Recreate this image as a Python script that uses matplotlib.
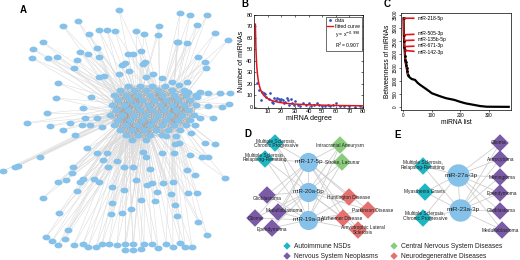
import numpy as np
import matplotlib
matplotlib.use("Agg")
from matplotlib import pyplot as plt
from matplotlib.path import Path
from matplotlib.lines import Line2D

plt.rcParams['font.family'] = ['Liberation Sans', 'DejaVu Sans']

# ---------------- data ----------------
# panel A: network layout (layout units = figure pixels), outer nodes
outer_x = [119,180,78,63,99,107,115,136,144,159,158,89,43,33,32,48,57,80,88,97,99,77,74,128,133,141,177,125,122,145,
           143,129,99,104,119,146,153,58,56,47,27,50,63,75,70,82,90,83,91,85,97,102,87,40,3,15,18,73,72,58,
           66,80,83,94,99,77,43,59,97,107,103,117,108,124,112,124,112,111,122,131,136,141,147,152,155,157,163,171,173,177,
           150,133,143,146,162,174,175,166,176,162,172,179,187,
           68,46,52,58,65,74,83,88,96,102,109,117,125,133,125,133,141,144,152,158,166,173,180,185,192,
           190,207,197,215,228,178,187,198,205,206,188,200,208,220,230,197,208,222,229,200,213,195,191,179,205,215,190,202,208,187,
           195,225,188,197,175,198,207]
outer_y = [10,13,21,26,30,30,31,31,34,26,35,34,42,49,58,58,57,52,54,48,57,60,68,54,54,51,42,63,65,62,
           64,71,77,76,74,77,74,83,98,113,123,126,130,135,123,125,125,108,97,118,118,127,148,157,171,167,166,167,173,182,
           180,182,179,179,182,191,198,213,153,153,160,161,167,167,187,190,203,214,213,209,180,200,185,183,201,192,183,194,182,216,
           169,167,152,157,153,153,144,136,136,78,82,85,82,
           230,237,241,245,239,245,244,247,247,244,244,245,244,244,250,250,249,244,244,248,244,247,243,247,247,
           15,15,25,33,40,42,43,57,62,68,92,92,93,93,93,97,106,107,104,118,118,125,133,143,143,144,155,157,157,170,
           175,178,193,193,205,222,235]
# dense core of panel A, one list of x per row
core_rows = {86: [128, 140, 152, 165],
             90: [120, 134, 146, 158, 172, 184],
             95: [114, 126, 138, 150, 162, 174, 186, 196],
             100: [118, 130, 142, 154, 166, 178, 190],
             105: [112, 124, 136, 148, 160, 172, 184, 196],
             110: [116, 128, 140, 152, 164, 176, 188],
             115: [110, 122, 134, 146, 158, 170, 182, 194],
             120: [118, 130, 142, 154, 166, 178, 190],
             125: [114, 126, 138, 150, 162, 174, 186],
             130: [120, 132, 144, 156, 168, 180],
             135: [126, 138, 150, 162],
             140: [132, 146]}
hub_x = [138, 150, 160, 145, 172, 128]
hub_y = [105, 110, 100, 120, 112, 115]

# panel B: degree distribution
deg_x = [2,4,5,6,7,8,9,11,12,13,14,15,16,17,18,19,20,21,22,23,24,25,26,27,28,29,30,
         32,34,36,38,40,42,44,46,48,50,52,54,56,58,60,63,66,70,74,78]
deg_n = [21,15,6,13,12,11,9,7,12,4,3,8,6,8,7,5,7,6,3,4,8,6,2,7,3,2,5,
         2,1,3,2,3,1,2,3,2,1,1,2,1,2,3,1,1,1,0,1]
fit_a, fit_b = 72, -0.998

# panel C: betweenness (sorted)
bt_rank = [1,2,3,4,5,6,7,8,10,12,14,16,20,25,30,41,50,59,75,93,100,120,133,150,179,200,220,248,270,293,370]
bt_val = [3380,2750,2530,2300,2150,1950,1800,1700,1600,1480,1350,1220,1150,1100,1060,1030,920,840,720,580,
          520,440,390,330,265,190,130,75,30,5,0]
top_names = ['miR-218-5p', 'miR-505-3p', 'miR-135b-5p', 'miR-671-3p', 'miR-142-3p']
top_text_y = [3380, 2800, 2570, 2340, 2060]

# panels D, E
cat_colors = {'auto': '#1fb6c3', 'neo': '#7b5aa6', 'cns': '#8ccb7e', 'neuro': '#e2716f'}
d_mirs = ['miR-17-5p', 'miR-20a-5p', 'miR-19a-3p']
d_mir_x = [308, 308, 308]
d_mir_y = [162, 192, 220]
d_dis = ['Multiple Sclerosis,\nChronic Progressive', 'Multiple Sclerosis,\nRelapsing-Remitting',
         'Intracranial Aneurysm', 'Stroke, Lacunar', 'Huntington Disease', 'Parkinson Disease',
         'Alzheimer Disease', 'Amyotrophic Lateral\nSclerosis', 'Glioblastoma', 'Medulloblastoma',
         'Glioma', 'Ependymoma']
d_cat = ['auto', 'auto', 'cns', 'cns', 'neuro', 'neuro', 'neuro', 'neuro', 'neo', 'neo', 'neo', 'neo']
d_dis_x = [275, 265, 340, 342, 349, 368, 343, 358, 267, 278, 255, 272]
d_dis_y = [143, 159, 145, 162, 197, 210, 218, 230, 195, 212, 218, 228]
d_lab_x = [276, 265, 340, 342, 349, 373, 342, 363, 267, 284, 256, 272]
d_lab_y = [143.5, 157.5, 145, 162, 198, 210, 218, 230, 198, 211, 218, 229]

e_mirs = ['miR-27a-3p', 'miR-23a-3p']
e_mir_x = [458, 460]
e_mir_y = [175, 210]
e_dis = ['Multiple Sclerosis,\nRelapsing-Remitting', 'Myasthenia Gravis', 'Multiple Sclerosis,\nChronic Progressive',
         'Glioma', 'Astrocytoma', 'Meningioma', 'Ependymoma', 'Glioblastoma', 'Medulloblastoma']
e_cat = ['auto', 'auto', 'auto', 'neo', 'neo', 'neo', 'neo', 'neo', 'neo']
e_dis_x = [423, 425, 423, 500, 500, 500, 500, 500, 502]
e_dis_y = [166, 192, 218, 143, 159, 177, 193, 211, 230]
e_lab_x = [423, 424, 425, 499, 501, 502, 502, 501, 500]
e_lab_y = [165, 192, 216, 143, 159, 177, 193, 211, 230]

leg_names = ['Autoimmune NSDs', 'Nervous System Neoplasms', 'Central Nervous System Diseases', 'Neurodegenerative Diseases']
leg_cat = ['auto', 'neo', 'cns', 'neuro']
leg_x = [287, 287, 394, 394]
leg_y = [246, 256, 246, 256]

node_blue = '#85c1e8'

# ---------------- figure ----------------
fig = plt.figure(figsize=(5.2, 2.6), dpi=100)
net = fig.add_axes([0, 0, 1, 1])
net.set_xlim(0, 520)
net.set_ylim(260, 0)
net.axis('off')

# panel A
core_x = [x for yy, xs in core_rows.items() for x in xs]
core_y = [yy for yy, xs in core_rows.items() for x in xs]
cx, cy = np.array(core_x, float), np.array(core_y, float)
hx, hy = np.array(hub_x, float), np.array(hub_y, float)
for x0, y0 in zip(outer_x, outer_y):
    d = np.hypot(hx - x0, hy - y0)
    for k in np.argsort(d)[:2]:
        net.plot([x0, hx[k]], [y0, hy[k]], color='#d9d9d9', lw=0.35, zorder=1)
for i in range(len(cx)):
    for j in range(i + 1, len(cx)):
        if np.hypot(cx[i] - cx[j], cy[i] - cy[j]) < 26:
            net.plot([cx[i], cx[j]], [cy[i], cy[j]], color='#8f8f8f', lw=0.25, alpha=0.6, zorder=1)
t = np.linspace(0, 2 * np.pi, 40)
ell = Path(np.column_stack([np.cos(t), 0.72 * np.sin(t)]))
net.scatter(outer_x, outer_y, s=33, marker=ell, color=node_blue, linewidths=0, zorder=3)
net.scatter(core_x, core_y, s=33, marker=ell, color=node_blue, linewidths=0, zorder=3)

# panel D
for mx, my in zip(d_mir_x, d_mir_y):
    for dx, dy in zip(d_dis_x, d_dis_y):
        net.plot([mx, dx], [my, dy], color='#cfcfcf', lw=0.6, zorder=1)
net.plot(d_mir_x, d_mir_y, color='#cfcfcf', lw=0.6, zorder=1)
net.scatter(d_dis_x, d_dis_y, s=80, marker='D', color=[cat_colors[c] for c in d_cat], linewidths=0, zorder=3)
net.scatter(d_mir_x, d_mir_y, s=190, marker='o', color=node_blue, linewidths=0, zorder=3)
for name, x, y in zip(d_dis, d_lab_x, d_lab_y):
    net.text(x, y, name, fontsize=3.5, ha='center', va='center', color='#222222', zorder=4, linespacing=0.95)
for name, x, y in zip(d_mirs, d_mir_x, d_mir_y):
    net.text(x + 1, y, name, fontsize=4.4, ha='center', va='center', color='#222222', zorder=4)

# panel E
for mx, my in zip(e_mir_x, e_mir_y):
    for dx, dy in zip(e_dis_x, e_dis_y):
        net.plot([mx, dx], [my, dy], color='#cfcfcf', lw=0.6, zorder=1)
net.plot(e_mir_x, e_mir_y, color='#cfcfcf', lw=0.6, zorder=1)
net.scatter(e_dis_x, e_dis_y, s=80, marker='D', color=[cat_colors[c] for c in e_cat], linewidths=0, zorder=3)
net.scatter(e_mir_x, e_mir_y, s=260, marker='o', color=node_blue, linewidths=0, zorder=3)
for name, x, y in zip(e_dis, e_lab_x, e_lab_y):
    net.text(x, y, name, fontsize=3.5, ha='center', va='center', color='#222222', zorder=4, linespacing=0.95)
for name, x, y in zip(e_mirs, e_mir_x, e_mir_y):
    net.text(x + 3, y, name, fontsize=4.6, ha='center', va='center', color='#222222', zorder=4)

# shared legend for D/E
net.scatter(leg_x, leg_y, s=14, marker='D', color=[cat_colors[c] for c in leg_cat], linewidths=0, zorder=3)
for name, x, y in zip(leg_names, leg_x, leg_y):
    net.text(x + 7, y, name, fontsize=4.8, ha='left', va='center', color='#222222')

# panel B
axb = fig.add_axes([254 / 520, 1 - 108 / 260, 109 / 520, 93 / 260])
axb.plot(deg_x, deg_n, '.', color='#2f4fbf', ms=1.8)
xf = np.linspace(1, 80, 400)
axb.plot(xf, fit_a * xf ** fit_b, color='#e3151c', lw=1.1)
axb.set_xlim(0, 80)
axb.set_ylim(-1, 80)
axb.set_xticks(range(10, 81, 10))
axb.set_yticks(range(0, 81, 10))
axb.tick_params(direction='in', top=True, right=True, length=1.5, width=0.4, labelsize=4, pad=1)
for s in axb.spines.values():
    s.set_linewidth(0.5)
axb.set_xlabel('miRNA degree', fontsize=5, labelpad=0.5)
axb.set_ylabel('Number of miRNAs', fontsize=5, labelpad=1)
handles = [Line2D([], [], ls='', marker='.', color='#2f4fbf', ms=2),
           Line2D([], [], color='#e3151c', lw=1),
           Line2D([], [], ls='', marker=''),
           Line2D([], [], ls='', marker='')]
labels = ['data', 'fitted curve', r'y = x$^{-0.998}$', r'R$^2$= 0.907']
leg = axb.legend(handles, labels, loc='upper right', fontsize=3.6, handlelength=1.2, handletextpad=0.3,
                 borderpad=0.3, labelspacing=0.15, borderaxespad=0.3, fancybox=False, framealpha=1,
                 edgecolor='#333333')
leg.get_frame().set_linewidth(0.5)

# panel C
axc = fig.add_axes([401 / 520, 1 - 110 / 260, 110 / 520, 97 / 260])
axc.plot(bt_rank, bt_val, color='black', lw=1.6)
axc.plot(bt_rank[:12], bt_val[:12], color='#e3151c', lw=1.0)
axc.plot(bt_rank[:12], bt_val[:12], '.', color='black', ms=2)
for name, r, v, ty in zip(top_names, bt_rank[:5], bt_val[:5], top_text_y):
    axc.annotate(name, xy=(r + 2, v), xytext=(52, ty), fontsize=3.6, va='center', ha='left',
                 arrowprops=dict(arrowstyle='-', color='#e3151c', lw=1.2, shrinkA=1, shrinkB=0))
axc.set_xlim(-8, 378)
axc.set_ylim(-120, 3580)
axc.set_xticks([0, 100, 200, 300])
axc.set_yticks(range(0, 3501, 500))
axc.tick_params(length=1.5, width=0.4, labelsize=3.4, pad=1)
axc.tick_params(axis='y', labelrotation=90)
for lab in axc.get_yticklabels():
    lab.set_va('center')
for s in axc.spines.values():
    s.set_linewidth(0.5)
axc.set_xlabel('miRNA list', fontsize=4.8, labelpad=0.5)
axc.set_ylabel('Betweenness of miRNAs', fontsize=4.8, labelpad=1)

# panel letters
for letter, px, py in [('A', 23, 10), ('B', 245, 4), ('C', 387, 4), ('D', 248, 134), ('E', 398, 135)]:
    fig.text(px / 520, 1 - py / 260, letter, fontsize=7, fontweight='bold', ha='center', va='center')

fig.savefig('out.png', dpi=100)
